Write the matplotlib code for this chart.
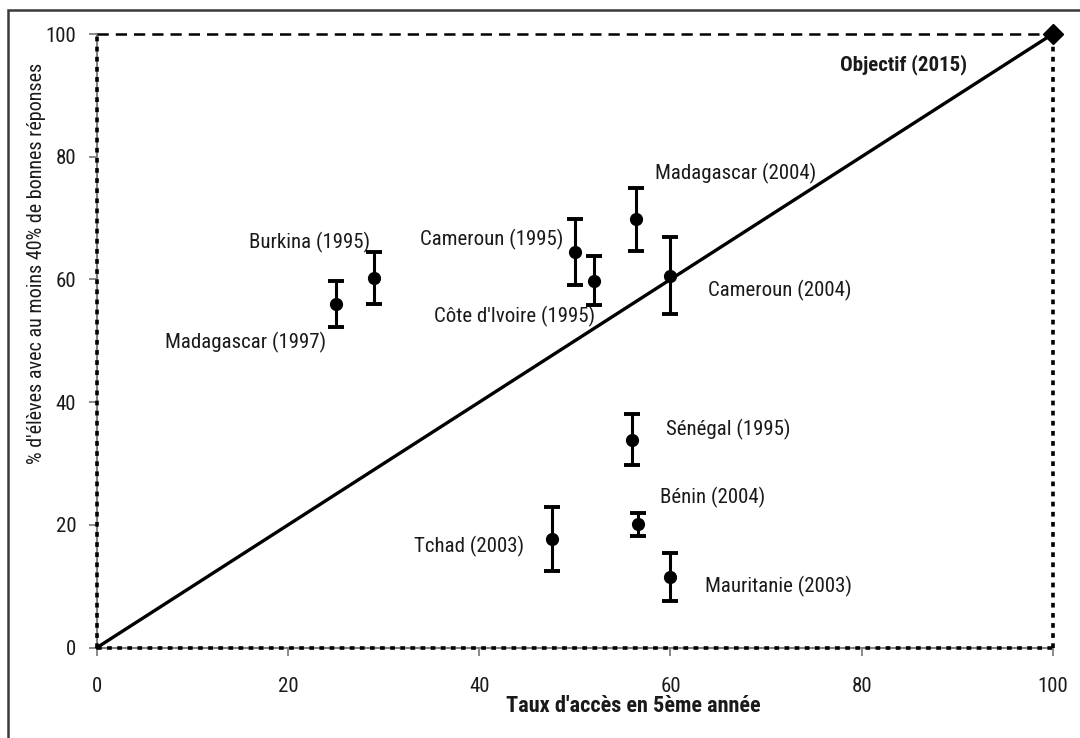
import matplotlib
matplotlib.use("Agg")
import matplotlib.pyplot as plt
from matplotlib.patches import Rectangle

plt.rcParams['font.family'] = ['Roboto Condensed', 'DejaVu Sans']

# Country results: access rate to grade 5 vs share of pupils with >= 40% correct answers
countries = ["Madagascar (1997)", "Burkina (1995)", "Cameroun (1995)",
             "Côte d'Ivoire (1995)", "Madagascar (2004)", "Cameroun (2004)",
             "Sénégal (1995)", "Bénin (2004)", "Tchad (2003)", "Mauritanie (2003)"]
access = [25.0, 29.0, 50.0, 52.0, 56.4, 60.0, 56.0, 56.6, 47.6, 60.0]
score = [56.0, 60.2, 64.5, 59.8, 69.8, 60.6, 33.9, 20.1, 17.7, 11.5]
score_err = [3.8, 4.2, 5.4, 4.0, 5.1, 6.3, 4.1, 1.85, 5.2, 3.9]

goal_label = "Objectif (2015)"
goal_x = 100
goal_y = 100

x_ticks = [0, 20, 40, 60, 80, 100]
y_ticks = [0, 20, 40, 60, 80, 100]

# label placement (pixel offsets from each point, alignment)
label_offsets = [(-10, -39, 'right'), (-4, 36, 'right'), (-12, 12, 'right'),
                 (1, -36, 'right'), (19, 46, 'left'), (38, -15, 'left'),
                 (34, 10, 'left'), (22, 27, 'left'), (-28, -8, 'right'),
                 (35, -10, 'left')]

FS = 15
TXT = '#1a1a1a'

W, H = 1080, 738
fig = plt.figure(figsize=(W / 100, H / 100), dpi=100)
ax = fig.add_axes([97.1 / W, 1 - 647.5 / H, (1052.7 - 97.1) / W, (647.5 - 34) / H])

# outer frame
fig.patches.append(Rectangle((8 / W, -0.1), 1.2, 1 - 10 / H + 0.1,
                             transform=fig.transFigure, fill=False,
                             edgecolor='#3a3a3a', linewidth=1.8))

ax.set_xlim(0, 100)
ax.set_ylim(0, 100)
for side in ['top', 'right']:
    ax.spines[side].set_visible(False)
for side in ['left', 'bottom']:
    ax.spines[side].set_color('#808080')
    ax.spines[side].set_linewidth(1.5)

ax.set_xticks(x_ticks)
ax.set_yticks(y_ticks)
ax.tick_params(axis='both', direction='out', length=6, width=1.3, color='#808080',
               labelsize=FS, labelcolor=TXT)
ax.tick_params(axis='x', pad=15)
ax.tick_params(axis='y', pad=9)

# dotted frame of the target square
ax.plot([0, 100], [goal_y, goal_y], color='black', lw=1.8, ls=(0, (4.5, 2.8)),
        clip_on=False, zorder=3)
ax.plot([goal_x, goal_x], [0, goal_y], color='black', lw=2.6, ls=(0, (1.3, 1.5)),
        clip_on=False, zorder=3)
ax.plot([0, 0], [0, goal_y], color='black', lw=2.6, ls=(0, (1.3, 1.5)),
        clip_on=False, zorder=3)
ax.plot([0, goal_x], [0, 0], color='black', lw=2.6, ls=(0, (1.3, 1.5)),
        clip_on=False, zorder=3)

# objective line
ax.plot([0, goal_x], [0, goal_y], color='black', lw=2.4, clip_on=False, zorder=4)
ax.plot([goal_x], [goal_y], marker='D', color='black', ms=10, clip_on=False, zorder=5)
ax.annotate(goal_label, (goal_x, goal_y), xytext=(-86, -31), textcoords='offset pixels',
            ha='right', va='center', fontsize=FS, fontweight='bold', color=TXT)

ax.errorbar(access, score, yerr=score_err, fmt='o', color='black', ms=8.5,
            elinewidth=2.2, capsize=5.5, capthick=2.8, zorder=6)

for name, x, y, (dx, dy, ha) in zip(countries, access, score, label_offsets):
    ax.annotate(name, (x, y), xytext=(dx, dy), textcoords='offset pixels',
                ha=ha, va='center', fontsize=FS, color=TXT)

fig.text(633 / W, 1 - 706 / H, "Taux d'accès en 5ème année", ha='center', va='center',
         fontsize=16, fontweight='bold', color=TXT)
fig.text(37 / W, 1 - 263 / H, "% d'élèves avec au moins 40% de bonnes réponses",
         rotation=90, ha='center', va='center', fontsize=14.5, color=TXT)

fig.savefig('out.png', dpi=100)
